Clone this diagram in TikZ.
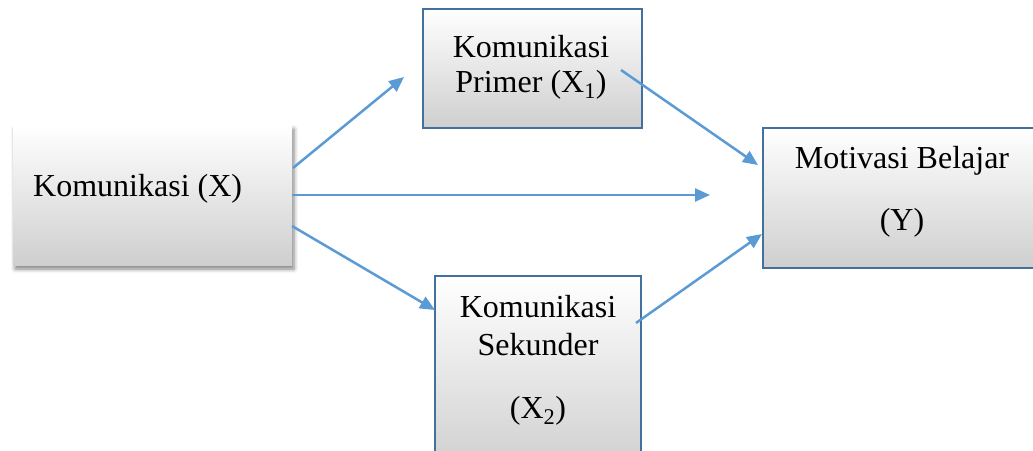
\documentclass[tikz,border=0pt]{standalone}
\usepackage{fontspec}
\setmainfont{Liberation Serif}
\usetikzlibrary{arrows.meta,shadows.blur}
\definecolor{arrowblue}{HTML}{5B9BD5}
\definecolor{boxblue}{HTML}{41719C}
\tikzset{
  box/.style={rectangle, inner sep=0pt, top color=white, middle color=white!97!black, bottom color=black!19},
  bluebox/.style={box, draw=boxblue, line width=2.6pt},
  lbl/.style={anchor=base, inner sep=0pt, font=\fontsize{32}{36}\selectfont},
  conn/.style={draw=arrowblue, line width=2.5pt, -{Triangle[length=15pt,width=13pt]}},
}
\begin{document}
\begin{tikzpicture}[x=1pt,y=-1pt]
\useasboundingbox (0,0) rectangle (1033,450);
\clip (0,0) rectangle (1033,450);
% boxes
\node[box, minimum width=279pt, minimum height=140pt, blur shadow={shadow xshift=2pt, shadow yshift=-4pt, shadow blur radius=4pt, shadow opacity=50}] (X) at (152.5,195) {};
\node[bluebox, minimum width=219pt, minimum height=119pt] (X1) at (532.5,68.5) {};
\node[bluebox, minimum width=282pt, minimum height=140pt] (Y) at (904,198) {};
\node[bluebox, minimum width=206pt, minimum height=196pt] (X2) at (538,374) {};
% labels
\node[lbl, anchor=base west] (tX) at (33,196) {Komunikasi (X)};
\node[lbl] (tX1a) at (531,57) {Komunikasi};
\node[lbl] (tX1b) at (531,92) {Primer (X\textsubscript{1})};
\node[lbl] (tYa) at (902,168) {Motivasi Belajar};
\node[lbl] (tYb) at (902,230) {(Y)};
\node[lbl] (tX2a) at (538,317) {Komunikasi};
\node[lbl] (tX2b) at (538,355) {Sekunder};
\node[lbl] (tX2c) at (538,418) {(X\textsubscript{2})};
% connector end points
\coordinate (a1s) at (293,168);
\coordinate (a1e) at (404,77);
\coordinate (a2s) at (292,195);
\coordinate (a2e) at (710,195);
\coordinate (a3s) at (292,226);
\coordinate (a3e) at (435,310);
\coordinate (a4s) at (621,70);
\coordinate (a4e) at (758,165);
\coordinate (a5s) at (636,323);
\coordinate (a5e) at (762,234);
% connectors
\draw[conn] (a1s) -- (a1e);
\draw[conn] (a2s) -- (a2e);
\draw[conn] (a3s) -- (a3e);
\draw[conn] (a4s) -- (a4e);
\draw[conn] (a5s) -- (a5e);
\end{tikzpicture}
\end{document}
